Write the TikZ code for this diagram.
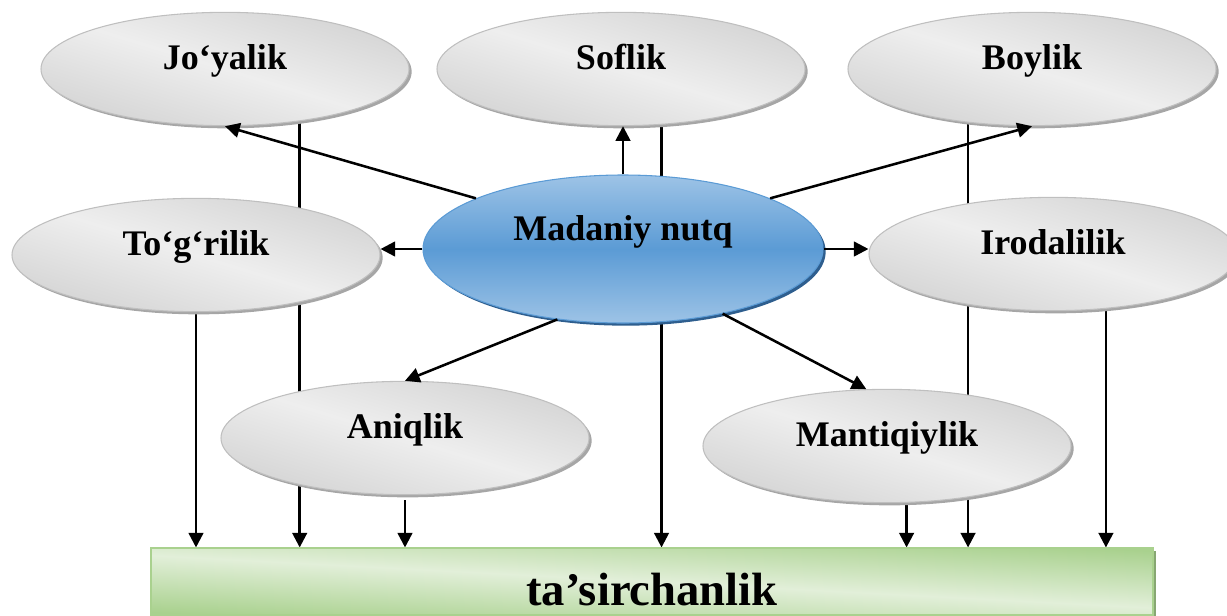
\documentclass[tikz,border=0pt]{standalone}
\usepackage{fontspec}
\setmainfont{Liberation Serif}
\usetikzlibrary{shapes.geometric,arrows.meta,shadows,backgrounds}

\definecolor{ovalline}{HTML}{BFBFBF}
\definecolor{ovaldark}{HTML}{D4D4D4}
\definecolor{ovallight}{HTML}{EEEEEE}
\definecolor{ovalshade}{HTML}{A6A6A6}
\definecolor{hubtop}{HTML}{9DC3E6}
\definecolor{hubmid}{HTML}{5B9BD5}
\definecolor{hubline}{HTML}{5B9BD5}
\definecolor{hubshade}{HTML}{2E5E8E}
\definecolor{basedark}{HTML}{A9D18E}
\definecolor{baselight}{HTML}{E2EFD9}

\begin{document}
\begin{tikzpicture}[x=0.75pt,y=0.75pt,yscale=-1,xscale=1,
  bubble/.style={ellipse, inner sep=0pt, line width=0.8pt,
    font=\bfseries\fontsize{27}{30}\selectfont, text height=20pt, text depth=20pt},
  oval/.style={bubble, minimum width=276pt, minimum height=85pt, draw=ovalline,
    top color=ovaldark, bottom color=ovaldark, middle color=ovallight, shading angle=-17,
    drop shadow={shadow xshift=2pt, shadow yshift=-2pt, fill=ovalshade, opacity=1}},
  hub/.style={bubble, minimum width=300pt, minimum height=111pt, draw=hubline,
    top color=hubtop, bottom color=hubtop, middle color=hubmid, text depth=33.5pt,
    drop shadow={shadow xshift=2pt, shadow yshift=-2pt, fill=hubshade, opacity=1}},
  base/.style={rectangle, inner sep=0pt, minimum width=751.5pt, minimum height=50.25pt,
    draw=basedark, line width=0.8pt,
    top color=basedark, bottom color=basedark, middle color=baselight, shading angle=-3,
    drop shadow={shadow xshift=2pt, shadow yshift=-2pt, fill=basedark!80!black, opacity=1},
    font=\bfseries\fontsize{35}{40}\selectfont, text height=36pt, text depth=0.75pt},
  arr/.style={line width=1.9pt, -{Triangle[length=11pt,width=11pt]}}]
\useasboundingbox (0,0) rectangle (1227,615);

%Shape: Ellipse
\draw (225,69) node [oval] (joy) {Jo‘yalik};
%Shape: Ellipse
\draw (621,69) node [oval] (sof) {Soflik};
%Shape: Ellipse
\draw (1032,69) node [oval] (boy) {Boylik};
%Shape: Ellipse
\draw (196,255) node [oval] (tog) {To‘g‘rilik};
%Shape: Ellipse
\draw (1053,254) node [oval] (iro) {Irodalilik};
%Shape: Ellipse
\draw (405,438) node [oval] (ani) {Aniqlik};
%Shape: Ellipse
\draw (887,446) node [oval] (man) {Mantiqiylik};
%Shape: Ellipse
\draw (623,249) node [hub] (mad) {Madaniy nutq};
%Shape: Rectangle
\draw (652,581.5) node [base] (eff) {ta’sirchanlik};

%Straight Lines
\draw[arr] (mad.161) -- (joy.south);
\draw[arr] (mad.north) -- (mad.north |- sof.south);
\draw[arr] (mad.19) -- (boy.south);
\draw[arr] (mad.west) -- (mad.west -| tog.east);
\draw[arr] (mad.east) -- (mad.east -| iro.west);
\draw[arr] (mad.-133) -- (ani.north);
\draw[arr] (mad.-33) -- (man.110);

%Straight Lines behind the ovals
\begin{scope}[on background layer]
\draw[arr] (tog.south) -- (tog.south |- eff.north);
\draw[arr] (joy.-35) -- (joy.-35 |- eff.north);
\draw[arr] (ani.south) ++(0,5) -- (ani.south |- eff.north);
\draw[arr] (sof.-54) -- (sof.-54 |- eff.north);
\draw[arr] (man.-71) -- (man.-71 |- eff.north);
\draw[arr] (boy.-140) -- (boy.-140 |- eff.north);
\draw[arr] (iro.-46) -- (iro.-46 |- eff.north);
\end{scope}

\end{tikzpicture}
\end{document}
